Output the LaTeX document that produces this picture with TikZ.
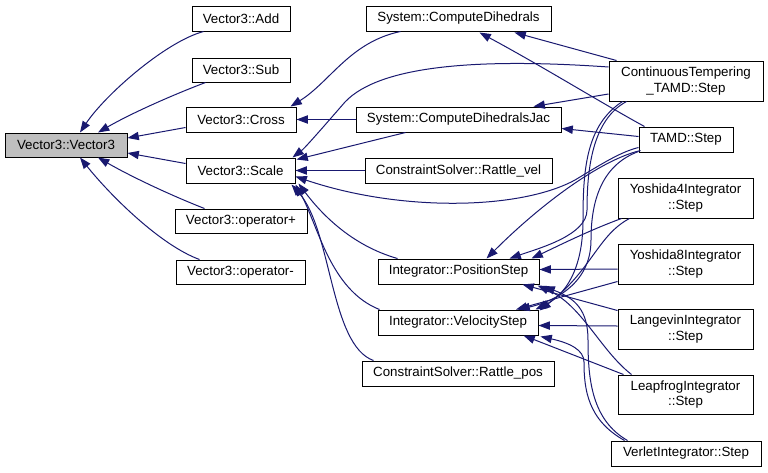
\documentclass[tikz,border=0pt]{standalone}
\usepackage{fontspec}
\setmainfont{Liberation Sans}
\usetikzlibrary{arrows.meta,calc}
\definecolor{edgeblue}{HTML}{191970}
\definecolor{boxgray}{HTML}{BFBFBF}
\tikzset{
  box/.style={draw=black, line width=0.75pt, inner sep=0pt, fill=white,
    font=\fontsize{10}{11.5}\selectfont, align=center},
  sz/.style 2 args={minimum width={#1*0.75pt}, minimum height={#2*0.75pt}},
  e/.style={draw=edgeblue, line width=0.75pt, -{Triangle[length=8.5pt,width=6.2pt]}}
}
\begin{document}
\begin{tikzpicture}[x=0.75pt,y=-0.75pt]
\useasboundingbox (0,0) rectangle (768,472);
% nodes
\node[box,sz={122}{24},fill=boxgray] (v3) at (66,145) {Vector3::Vector3};
\node[box,sz={98}{25}] (add) at (241,18.5) {Vector3::Add};
\node[box,sz={98}{24}] (sub) at (241,70) {Vector3::Sub};
\node[box,sz={110}{25}] (cross) at (241,119.5) {Vector3::Cross};
\node[box,sz={109}{25}] (scale) at (240.5,170.5) {Vector3::Scale};
\node[box,sz={132}{24}] (opp) at (241,221) {Vector3::operator+};
\node[box,sz={129}{24}] (opm) at (240.5,272) {Vector3::operator-};
\node[box,sz={185}{25}] (cd) at (458.5,18.5) {System::ComputeDihedrals};
\node[box,sz={205}{25}] (jac) at (458.5,119.5) {System::ComputeDihedralsJac};
\node[box,sz={187}{25}] (rv) at (458.5,170.5) {ConstraintSolver::Rattle\_vel};
\node[box,sz={161}{25}] (ps) at (458.5,271.5) {Integrator::PositionStep};
\node[box,sz={160}{25}] (vs) at (458,322.5) {Integrator::VelocityStep};
\node[box,sz={192}{25}] (rp) at (458,373.5) {ConstraintSolver::Rattle\_pos};
\node[box,sz={154}{40}] (ct) at (686,81) {ContinuousTempering\\\_TAMD::Step};
\node[box,sz={94}{25}] (tamd) at (686,139.5) {TAMD::Step};
\node[box,sz={135}{40}] (y4) at (685.5,198) {Yoshida4Integrator\\::Step};
\node[box,sz={135}{40}] (y8) at (685.5,264) {Yoshida8Integrator\\::Step};
\node[box,sz={135}{40}] (lang) at (685.5,329) {LangevinIntegrator\\::Step};
\node[box,sz={135}{39}] (leap) at (685.5,394.5) {LeapfrogIntegrator\\::Step};
\node[box,sz={150}{25}] (verlet) at (686,453.5) {VerletIntegrator::Step};
% edges into Vector3::Vector3
\draw[e] ($(add.south west)+(12,0)$) .. controls (165,42) and (105,95) .. ($(v3.north)+(14,0)$);
\draw[e] ($(sub.south west)+(14,0)$) .. controls (170,96) and (130,114) .. ($(v3.north)+(32,0)$);
\draw[e] ($(cross.west)+(0,8)$) -- ($(v3.east)+(0,-7)$);
\draw[e] ($(scale.west)+(0,-7)$) -- ($(v3.east)+(0,8)$);
\draw[e] ($(opp.north west)+(30,0)$) .. controls (170,195) and (130,176) .. ($(v3.south)+(32,0)$);
\draw[e] ($(opm.north west)+(24,0)$) .. controls (160,245) and (110,195) .. ($(v3.south)+(14,0)$);
% edges into Cross
\draw[e] ($(cd.south west)+(35,0)$) .. controls (350,42) and (330,82) .. ($(cross.north east)+(-6,0)$);
\draw[e] (jac.west) -- (cross.east);
% edges into Scale
\draw[e] ($(ct.west)+(0,-14)$) .. controls (480,58) and (380,65) .. (345,102) .. controls (325,125) and (305,148) .. ($(scale.north east)+(-3,0)$);
\draw[e] ($(jac.south west)+(50,0)$) -- ($(scale.north east)+(1,2)$);
\draw[e] (rv.west) -- (scale.east);
\draw[e] ($(tamd.west)+(0,8)$) .. controls (620,152) and (600,165) .. (575,180) .. controls (520,210) and (400,212) .. ($(scale.east)+(0,6)$);
\draw[e] ($(ps.north west)+(20,0)$) .. controls (350,245) and (320,212) .. ($(scale.south east)+(3,0)$);
\draw[e] ($(vs.north west)+(2,0)$) .. controls (330,290) and (318,225) .. ($(scale.south east)+(0,1)$);
\draw[e] ($(rp.north west)+(12,0)$) .. controls (330,345) and (332,230) .. ($(scale.south east)+(-4,1)$);
% edges into ComputeDihedrals / Jac
\draw[e] ($(ct.north west)+(8,0)$) -- ($(cd.south east)+(-37,1)$);
\draw[e] ($(tamd.north west)+(6,0)$) .. controls (605,105) and (540,65) .. ($(cd.south west)+(114,1)$);
\draw[e] ($(ct.west)+(0,13)$) -- ($(jac.north east)+(-28,0)$);
\draw[e] ($(tamd.west)+(0,-3)$) -- ($(jac.east)+(0,9)$);
% edges into PositionStep
\draw[e] ($(tamd.south west)+(2,-2)$) .. controls (600,160) and (540,205) .. ($(ps.north)+(28,0)$);
\draw[e] ($(ct.south west)+(18,0)$) .. controls (592,120) and (587,170) .. (587,210) .. controls (587,235) and (540,248) .. ($(ps.north east)+(-30,0)$);
\draw[e] ($(y4.south west)+(4,0)$) .. controls (590,230) and (560,245) .. ($(ps.north east)+(-8,0)$);
\draw[e] ($(y8.west)+(0,5)$) -- ($(ps.east)+(0,-2)$);
\draw[e] ($(lang.north west)+(0,2)$) -- ($(ps.south east)+(-17,0)$);
\draw[e] ($(leap.north west)+(14,0)$) .. controls (600,350) and (582,305) .. ($(ps.south east)+(-2,1)$);
\draw[e] ($(verlet.north west)+(17,0)$) .. controls (592,420) and (588,380) .. (588,340) .. controls (588,310) and (575,298) .. ($(ps.south east)+(4,2)$);
% edges into VelocityStep
\draw[e] ($(ct.south west)+(14,0)$) .. controls (586,125) and (583,170) .. (583,220) .. controls (583,270) and (565,295) .. ($(vs.north east)+(-3,0)$);
\draw[e] ($(tamd.south west)+(0,-1)$) .. controls (602,165) and (591,200) .. (591,240) .. controls (591,280) and (560,300) .. ($(vs.north east)+(-20,0)$);
\draw[e] ($(y4.south west)+(12,0)$) .. controls (598,235) and (592,270) .. ($(vs.north east)+(1,1)$);
\draw[e] ($(y8.south west)+(0,-3)$) -- ($(vs.north)+(58,0)$);
\draw[e] ($(lang.west)+(0,-3)$) -- ($(vs.east)+(0,3)$);
\draw[e] ($(leap.north west)+(6,0)$) -- ($(vs.south east)+(-15,0)$);
\draw[e] ($(verlet.north west)+(14,0)$) .. controls (588,420) and (584,390) .. (584,362) .. controls (584,350) and (570,343) .. ($(vs.south east)+(2,1)$);
\end{tikzpicture}
\end{document}
